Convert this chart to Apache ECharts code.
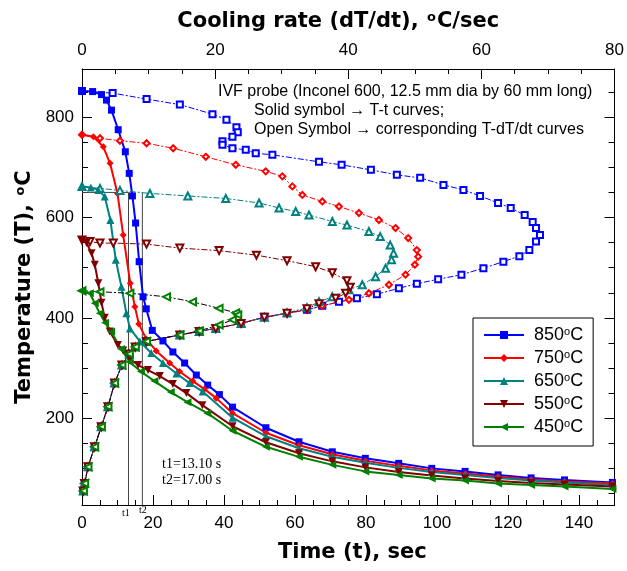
<!DOCTYPE html>
<html>
<head>
<meta charset="utf-8">
<script src="https://cdn.jsdelivr.net/npm/echarts@6/dist/echarts.min.js"></script>
<style>
  html, body { margin: 0; padding: 0; background: #fff; }
  #chart { width: 627px; height: 571px; }
</style>
</head>
<body>
<div id="chart"></div>
<script>
// Axis ranges and tick labels
const timeRange = [0, 150];
const rateRange = [0, 80];
const tempRange = [27, 896];
const timeTicks = [0, 20, 40, 60, 80, 100, 120, 140];
const rateTicks = [0, 20, 40, 60, 80];
const tempTicks = [200, 400, 600, 800];

// Quench start temperatures (legend entries)
const quenchTemps = ['850°C', '750°C', '650°C', '550°C', '450°C'];

// Marked instants on the time axis, s
const t1 = 13.10;
const t2 = 17.00;
const markTemp = 650;

// T-t curves: [time (s), temperature (°C)]
const tt850 = [[0,852],[3.0,851],[5.5,845],[6.9,834],[8.3,814],[10.2,775],[12.2,731],[13.3,688],[14.2,643],[15.1,589],[16.1,512],[17.2,442],[18.1,418],[19.8,375],[22.8,354],[25.6,332],[28.9,310],[32.2,286],[35.4,266],[38.7,247],[42.4,222],[51.8,181],[61.1,153],[70.5,133],[79.8,120],[89.2,110],[98.5,100],[107.9,94],[117.2,87],[126.5,81],[135.9,77],[149.4,72]];
const tt750 = [[0,765],[3.2,761],[6.0,741],[7.9,708],[10.0,648],[11.6,565],[13.6,469],[14.9,422],[16.0,388],[18.1,358],[20.9,334],[24.7,310],[27.5,293],[31.2,274],[34.5,258],[37.8,240],[42.4,210],[51.8,171],[61.1,146],[70.5,128],[79.8,115],[89.2,105],[98.5,96],[107.9,90],[117.2,84],[126.5,78],[135.9,74],[149.4,70]];
const tt650 = [[0,662],[2.5,660],[4.6,655],[6.4,642],[8.0,595],[9.5,516],[11.1,462],[12.5,409],[13.5,379],[16.3,353],[19.5,330],[22.8,310],[26.6,289],[30.3,270],[34.0,253],[42.4,201],[51.8,164],[61.1,140],[70.5,123],[79.8,111],[89.2,101],[98.5,93],[107.9,87],[117.2,81],[126.5,76],[135.9,72],[149.4,67]];
const tt550 = [[0,555],[1.3,549],[2.7,529],[3.6,506],[4.6,469],[5.5,430],[6.4,400],[7.8,373],[10.1,346],[11.6,335],[13.5,318],[15.8,306],[18.6,296],[21.9,284],[25.6,268],[29.4,250],[33.9,226],[42.4,184],[51.8,152],[61.1,130],[70.5,114],[79.8,102],[89.2,93],[98.5,86],[107.9,80],[117.2,75],[126.5,71],[135.9,68],[149.4,64]];
const tt450 = [[0,454],[2.2,449],[3.6,429],[5.0,409],[6.5,390],[8.2,373],[11.0,338],[13.4,312],[16.6,293],[20.4,274],[25.0,252],[29.7,232],[35.3,210],[42.4,175],[51.8,143],[61.1,123],[70.5,107],[79.8,94],[89.2,87],[98.5,80],[107.9,76],[117.2,70],[126.5,67],[135.9,64],[149.4,59]];

// T-dT/dt curves: [cooling rate (°C/s), temperature (°C)]
const cr850 = [[0,852],[4.6,848],[9.7,836],[14.7,825],[19.6,806],[21.7,795],[23.2,780],[23.4,770],[22.6,761],[21.1,752],[21.1,745],[22.6,738],[24.6,735],[26.1,728],[28.6,725],[35.6,711],[39.0,705],[43.4,695],[47.3,685],[50.8,679],[54.3,665],[57.3,655],[59.8,643],[62.5,629],[64.4,619],[66.5,605],[67.7,591],[68.2,579],[68.8,565],[68.2,552],[67.2,535],[65.7,523],[63.3,512],[60.3,499],[57.0,486],[53.5,477],[50.3,468],[47.6,459],[44.3,447],[41.3,439],[38.6,432],[36.1,424],[33.8,416],[30.8,409],[27.4,402],[23.9,389],[20.1,379],[17.6,373],[14.7,366],[9.7,353],[8.0,342],[7.1,328],[6.0,306],[4.9,270],[3.9,223],[2.9,183],[1.9,143],[0.9,103],[0.4,70],[0.2,55]];
const cr750 = [[0,765],[2.7,758],[5.7,753],[9.7,748],[13.7,738],[18.6,721],[23.1,705],[27.6,692],[30.1,682],[31.6,662],[33.1,645],[36.1,632],[38.6,622],[41.6,609],[44.6,595],[47.1,579],[49.0,559],[50.3,535],[50.5,522],[50.0,506],[48.6,486],[46.1,466],[43.1,449],[40.1,436],[36.1,424],[33.8,416],[30.8,409],[27.4,401],[23.9,389],[20.1,379],[17.6,373],[14.7,366],[9.7,353],[8.0,342],[7.1,328],[6.0,306],[4.9,270],[3.9,223],[2.9,183],[1.9,143],[0.9,103],[0.4,70],[0.2,55]];
const cr650 = [[0,662],[2.7,658],[5.7,654],[10.2,648],[15.9,643],[21.6,638],[26.6,629],[29.6,619],[32.1,612],[34.1,605],[37.6,592],[39.8,585],[43.1,572],[44.8,562],[46.3,545],[46.8,529],[46.5,516],[45.6,499],[44.1,482],[42.1,466],[40.1,456],[37.6,442],[35.6,432],[33.8,420],[30.8,410],[27.4,401],[23.9,389],[20.1,379],[17.6,373],[14.7,366],[9.7,353],[8.0,342],[7.1,328],[6.0,306],[4.9,270],[3.9,223],[2.9,183],[1.9,143],[0.9,103],[0.4,70],[0.2,55]];
const cr550 = [[0,555],[1.2,552],[2.7,549],[4.7,549],[9.7,547],[14.7,539],[20.6,534],[26.2,525],[30.8,514],[35.1,502],[37.6,490],[39.8,474],[40.3,461],[39.6,449],[38.1,439],[35.6,428],[33.8,418],[30.8,409],[27.4,401],[23.9,389],[20.1,379],[17.6,373],[14.7,366],[9.7,353],[8.0,342],[7.1,328],[6.0,306],[4.9,270],[3.9,223],[2.9,183],[1.9,143],[0.9,103],[0.4,70],[0.2,55]];
const cr450 = [[0,454],[2.7,452],[7.2,449],[12.7,442],[16.6,432],[20.6,419],[23.1,410],[23.4,406],[22.6,396],[20.6,386],[17.6,374],[14.7,366],[9.7,353],[8.0,342],[7.1,328],[6.0,306],[4.9,270],[3.9,223],[2.9,183],[1.9,143],[0.9,103],[0.4,70],[0.2,55]];

const curvesTime = [tt850, tt750, tt650, tt550, tt450];
const curvesRate = [cr850, cr750, cr650, cr550, cr450];

// Styling per quench temperature
const colors = ['#0000ff', '#ff0000', '#008080', '#800000', '#008000'];
const solidSymbols = ['rect', 'diamond', 'triangle', 'triangle', 'triangle'];
const openSymbols = ['emptyRect', 'emptyDiamond', 'emptyTriangle', 'emptyTriangle', 'emptyTriangle'];
const symbolRotations = [0, 0, 0, 180, 90];
const solidSizes = [7, 7, 8, 8, 8];
const openSizes = [6, 6, 7, 7, 7];

const labelFont = 'Liberation Sans';
const titleFont = 'DejaVu Sans';

function stepValues(lo, hi, step, skipEvery) {
  const out = [];
  for (let v = lo; v <= hi + 1e-9; v += step) {
    if (skipEvery && Math.abs(v % skipEvery) < 1e-9) continue;
    out.push(Math.round(v * 1000) / 1000);
  }
  return out;
}

function titleStyle(padding) {
  return {
    fontFamily: titleFont, fontWeight: 'bold', fontSize: 21, color: '#000', padding: padding,
    rich: { sup: { fontFamily: titleFont, fontWeight: 'bold', fontSize: 13, color: '#000', verticalAlign: 'top', padding: [0, 1, 8, 1] } }
  };
}

function axis(extra) {
  return Object.assign({
    type: 'value',
    splitLine: { show: false },
    axisLine: { show: false, onZero: false },
    axisTick: { show: false },
    axisLabel: { show: false }
  }, extra);
}
function ticks(values, len) {
  return { show: true, inside: true, length: len, customValues: values, lineStyle: { color: '#000', width: 1 } };
}
const frameLine = { show: true, onZero: false, lineStyle: { color: '#000', width: 1 } };
const tickLabel = (values, margin) => ({ show: true, customValues: values, color: '#000', fontFamily: labelFont, fontSize: 17, margin: margin });

const xAxis = [
  axis({ position: 'bottom', min: timeRange[0], max: timeRange[1], axisLine: frameLine,
         axisTick: ticks(timeTicks, 10), axisLabel: tickLabel(timeTicks, 10),
         name: 'Time (t), sec', nameLocation: 'middle', nameGap: 37, nameTextStyle: titleStyle([0, 0, 0, 8]) }),
  axis({ position: 'bottom', min: timeRange[0], max: timeRange[1], axisTick: ticks(stepValues(5, 145, 5, 20), 5) }),
  axis({ position: 'top', min: rateRange[0], max: rateRange[1], axisLine: frameLine,
         axisTick: ticks(rateTicks, 10), axisLabel: tickLabel(rateTicks, 10),
         name: 'Cooling rate (dT/dt), {sup|o}C/sec', nameLocation: 'middle', nameGap: 37, nameTextStyle: titleStyle([0, 20, 0, 0]) }),
  axis({ position: 'top', min: rateRange[0], max: rateRange[1], axisTick: ticks(stepValues(5, 75, 5, 20), 5) })
];
const yAxis = [
  axis({ position: 'left', min: tempRange[0], max: tempRange[1], axisLine: frameLine,
         axisTick: ticks(tempTicks, 10), axisLabel: tickLabel(tempTicks, 8),
         name: 'Temperature (T), {sup|o}C', nameLocation: 'middle', nameRotate: 90, nameGap: 44, nameTextStyle: titleStyle([0, 0, 0, 0]) }),
  axis({ position: 'left', min: tempRange[0], max: tempRange[1], axisTick: ticks(stepValues(50, 850, 50, 200), 6) }),
  axis({ position: 'right', min: tempRange[0], max: tempRange[1], axisLine: frameLine, axisTick: ticks(tempTicks, 10) }),
  axis({ position: 'right', min: tempRange[0], max: tempRange[1], axisTick: ticks(stepValues(50, 850, 50, 200), 6) })
];

const series = [];

// Reference lines at t1 and t2
const guideStyle = { color: '#444', width: 1 };
series.push({ type: 'line', xAxisIndex: 0, yAxisIndex: 0, symbol: 'none', silent: true,
  lineStyle: guideStyle, data: [[timeRange[0], markTemp], [t1, markTemp], [t1, tempRange[0]]] });
series.push({ type: 'line', xAxisIndex: 0, yAxisIndex: 0, symbol: 'none', silent: true,
  lineStyle: guideStyle, data: [[t2, markTemp], [t2, tempRange[0]]] });

quenchTemps.forEach((name, i) => {
  // cooling-rate curve (open symbols, dash-dot line)
  series.push({
    type: 'line', name: name + ' rate', xAxisIndex: 2, yAxisIndex: 0,
    data: curvesRate[i],
    symbol: openSymbols[i], symbolSize: openSizes[i], symbolRotate: symbolRotations[i],
    showAllSymbol: true,
    lineStyle: { color: i === 4 ? '#000' : colors[i], width: 1, type: [6, 2, 2, 2] },
    itemStyle: { color: colors[i], borderColor: colors[i], borderWidth: 1 },
    emphasis: { disabled: true }
  });
  // temperature-time curve (solid symbols)
  series.push({
    type: 'line', name: name, xAxisIndex: 0, yAxisIndex: 0,
    data: curvesTime[i],
    symbol: solidSymbols[i], symbolSize: solidSizes[i], symbolRotate: symbolRotations[i],
    showAllSymbol: true,
    lineStyle: { color: colors[i], width: 2 },
    itemStyle: { color: colors[i] },
    emphasis: { disabled: true }
  });
});

const noteFont = '16px "Liberation Sans"';
const option = {
  animation: false,
  backgroundColor: '#fff',
  grid: { left: 82, right: 10, top: 69, bottom: 66, containLabel: false },
  xAxis, yAxis, series,
  legend: {
    data: quenchTemps,
    orient: 'vertical', left: 473, top: 318,
    padding: [8, 10, 10, 10], itemGap: 5, itemWidth: 40, itemHeight: 10,
    borderColor: '#000', borderWidth: 1, backgroundColor: '#fff',
    selectedMode: false,
    formatter: (n) => n.replace('°', '{sup|o}'),
    textStyle: { fontFamily: labelFont, fontSize: 18, lineHeight: 18, color: '#000', padding: [0, 0, 0, 5],
      rich: { sup: { fontFamily: labelFont, fontSize: 11, verticalAlign: 'top', color: '#000', padding: [0, 0, 6, 0] } } }
  },
  graphic: [
    { type: 'text', x: 218, y: 92, style: { text: 'IVF probe (Inconel 600, 12.5 mm dia by 60 mm long)', font: noteFont, fill: '#000', textVerticalAlign: 'middle', verticalAlign: 'middle' } },
    { type: 'text', x: 254, y: 111, style: { text: 'Solid symbol \u2192 T-t curves;', font: noteFont, fill: '#000', textVerticalAlign: 'middle', verticalAlign: 'middle' } },
    { type: 'text', x: 254, y: 130, style: { text: 'Open Symbol \u2192 corresponding T-dT/dt curves', font: noteFont, fill: '#000', textVerticalAlign: 'middle', verticalAlign: 'middle' } },
    { type: 'text', x: 162, y: 464, style: { text: 't1=' + t1.toFixed(2) + ' s', font: '14px "Liberation Serif"', fill: '#000', textVerticalAlign: 'middle', verticalAlign: 'middle' } },
    { type: 'text', x: 162, y: 480, style: { text: 't2=' + t2.toFixed(2) + ' s', font: '14px "Liberation Serif"', fill: '#000', textVerticalAlign: 'middle', verticalAlign: 'middle' } },
    { type: 'text', x: 122, y: 513, style: { text: 't1', font: '10px "Liberation Serif"', fill: '#000', textVerticalAlign: 'middle', verticalAlign: 'middle' } },
    { type: 'text', x: 139, y: 510, style: { text: 't2', font: '10px "Liberation Serif"', fill: '#000', textVerticalAlign: 'middle', verticalAlign: 'middle' } }
  ]
};

const chart = echarts.init(document.getElementById('chart'), null, { renderer: 'canvas' });
chart.setOption(option);
</script>
</body>
</html>
